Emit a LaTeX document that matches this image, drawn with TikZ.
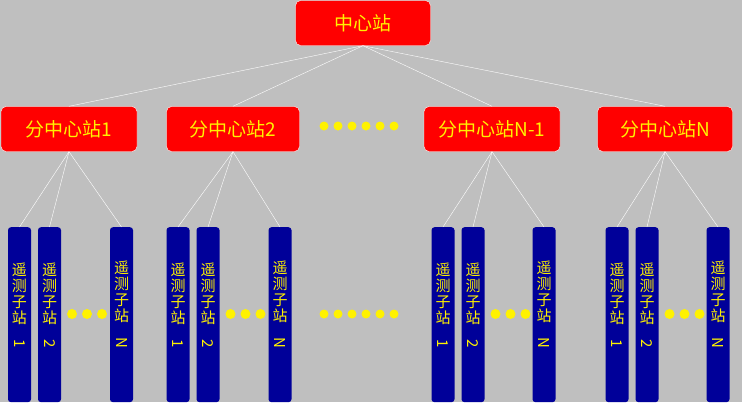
\documentclass[tikz,border=0pt]{standalone}
\usepackage{fontspec}
\newfontfamily\cjk{Noto Sans CJK SC}
\usepackage{graphicx}
\begin{document}
\begin{tikzpicture}[x=1pt,y=-1pt,
  zhan/.style={draw=white,fill=red,rounded corners=5pt,text=yellow,font=\cjk\fontsize{19}{19}\selectfont,minimum height=45pt,inner xsep=0pt},
  zizhan/.style={fill=blue!60!black,rounded corners=3pt,minimum width=23pt,minimum height=175pt,anchor=north},
  ztext/.style={text=yellow,font=\cjk\fontsize{15}{16}\selectfont,align=center},
  lian/.style={draw=white,thin},
  dian/.style={fill=yellow,circle,inner sep=0pt,minimum size=10pt}]
\fill[gray!50] (0,0) rectangle (742,402);
\useasboundingbox (0,0) rectangle (742,402);
\node[zhan,minimum width=135pt] (ctr) at (363,23){中心站};
\foreach \n/\cx/\w/\t/\xa/\xb/\xc in {s1/69/136/分中心站1/19.5/49.5/121.5,
   s2/233/133/分中心站2/178/208/280,
   sn1/492/136/分中心站N-1/443/473/544,
   sn/665/135/分中心站N/617/647/718}{
  \node[zhan,minimum width=\w pt] (\n) at (\cx,129){\t};
  \draw[lian] (ctr.south) -- (\n.north);
  \foreach \k/\x/\d in {a/\xa/1,b/\xb/2,c/\xc/N}{
    \node[zizhan] (\n\k) at (\x,227){};
    \node[ztext] at (\x,305){遥\\测\\子\\站\\\rotatebox{-90}{\d}};
    \draw[lian] (\n.south) -- (\n\k.north);
  }
  \foreach \i in {0,1,2}
    \node[dian] at (\xb+22.5+15*\i,314) {};
}
% middle dots
\foreach \i in {0,...,5}{
  \node[dian,minimum size=9pt] at (324+14*\i,126) {};
  \node[dian,minimum size=9pt] at (324+14*\i,314) {};
}
\end{tikzpicture}
\end{document}
